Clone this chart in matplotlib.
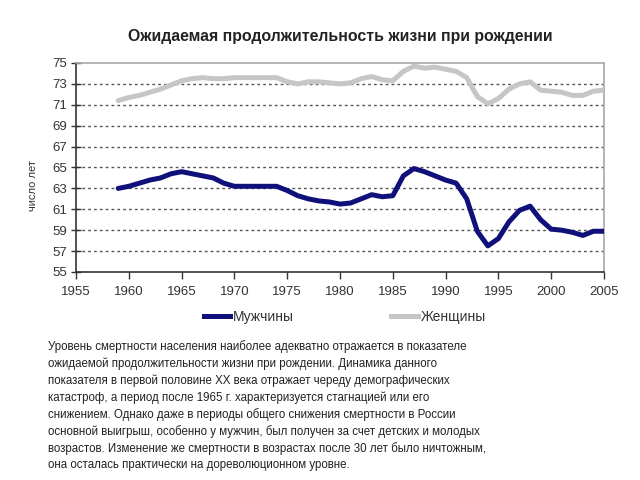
import matplotlib
matplotlib.use("Agg")
import matplotlib.pyplot as plt
from matplotlib.lines import Line2D

years = list(range(1959, 2006))
men = [63.0, 63.2, 63.5, 63.8, 64.0, 64.4, 64.6, 64.4, 64.2, 64.0, 63.5, 63.2, 63.2, 63.2, 63.2, 63.2,
       62.8, 62.3, 62.0, 61.8, 61.7, 61.5, 61.6, 62.0, 62.4, 62.2, 62.3, 64.2, 64.9, 64.6, 64.2, 63.8,
       63.5, 62.0, 58.9, 57.5, 58.2, 59.8, 60.9, 61.3, 60.0, 59.1, 59.0, 58.8, 58.5, 58.9, 58.9]
women = [71.4, 71.7, 71.9, 72.2, 72.5, 72.9, 73.3, 73.5, 73.6, 73.5, 73.5, 73.6, 73.6, 73.6, 73.6, 73.6,
         73.2, 73.0, 73.2, 73.2, 73.1, 73.0, 73.1, 73.5, 73.7, 73.4, 73.3, 74.2, 74.7, 74.5, 74.6, 74.4,
         74.2, 73.6, 71.8, 71.1, 71.6, 72.5, 73.0, 73.2, 72.4, 72.3, 72.2, 71.9, 71.9, 72.3, 72.4]
xticks = list(range(1955, 2010, 5))
yticks = list(range(55, 77, 2))
title = "Ожидаемая продолжительность жизни при рождении"
ylabel = "число лет"
labels = ["Мужчины", "Женщины"]
body = [
    "Уровень смертности населения наиболее адекватно отражается в показателе",
    "ожидаемой продолжительности жизни при рождении. Динамика данного",
    "показателя в первой половине XX века отражает череду демографических",
    "катастроф, а период после 1965 г. характеризуется стагнацией или его",
    "снижением. Однако даже в периоды общего снижения смертности в России",
    "основной выигрыш, особенно у мужчин, был получен за счет детских и молодых",
    "возрастов. Изменение же смертности в возрастах после 30 лет было ничтожным,",
    "она осталась практически на дореволюционном уровне.",
]

plt.rcParams["font.family"] = ["Liberation Sans", "DejaVu Sans"]

fig = plt.figure(figsize=(6.4, 4.8), dpi=100)
W, H = 640, 480
ax = fig.add_axes([76 / W, 1 - 272 / H, (604 - 76) / W, (272 - 63) / H])

c_men = "#10107a"
c_women = "#c6c6c6"
ax.plot(years, women, color=c_women, lw=3.6, solid_capstyle="round", solid_joinstyle="round", zorder=3)
ax.plot(years, men, color=c_men, lw=3.6, solid_capstyle="round", solid_joinstyle="round", zorder=4)

ax.set_xlim(1955, 2005)
ax.set_ylim(55, 75)
ax.set_xticks(xticks)
ax.set_yticks(yticks)
for y in yticks[1:-1]:
    ax.axhline(y, color="#555555", lw=1.0, ls=(0, (2, 2.2)), zorder=1)

for s in ["top", "right"]:
    ax.spines[s].set_color("#a8a8a8")
    ax.spines[s].set_linewidth(1.2)
for s in ["left", "bottom"]:
    ax.spines[s].set_color("#333333")
    ax.spines[s].set_linewidth(1.2)
ax.tick_params(axis="y", direction="inout", length=7, width=1, labelsize=9.5, colors="#333333", pad=3)
ax.tick_params(axis="x", direction="out", length=5, width=1, labelsize=9.5, colors="#333333", pad=5)

fig.text(33 / W, 1 - 185 / H, ylabel, rotation=90, ha="center", va="center", fontsize=8, color="#333333")
fig.text(340 / W, 1 - 36 / H, title, ha="center", va="center", fontsize=11.4, fontweight="bold",
         color="#222222")

handles = [Line2D([], [], color=c_men, lw=3.6), Line2D([], [], color=c_women, lw=3.6)]
fig.legend(handles, labels, loc="center", bbox_to_anchor=(345 / W, 1 - 317 / H), ncol=2,
           frameon=False, handlelength=1.9, handletextpad=0.2, columnspacing=7.0, fontsize=10,
           labelcolor="#333333")

y0 = 347
for i, line in enumerate(body):
    fig.text(48 / W, 1 - (y0 + i * 16.9) / H, line, ha="left", va="center", fontsize=8.3, color="#222222")

fig.savefig("out.png", dpi=100, facecolor="white")
